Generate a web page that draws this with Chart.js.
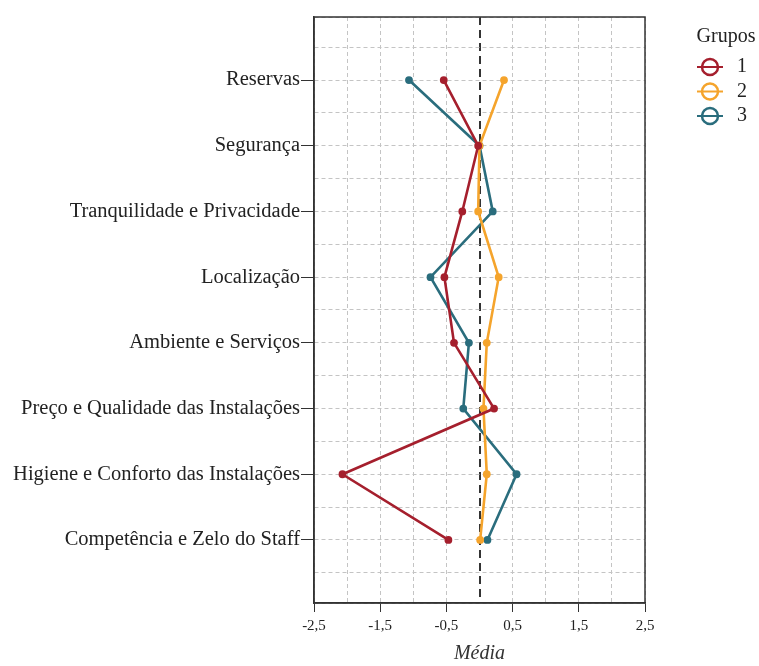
<!DOCTYPE html>
<html>
<head>
<meta charset="utf-8">
<script src="https://cdn.jsdelivr.net/npm/chart.js@4.4.1/dist/chart.umd.min.js"></script>
<style>
  html, body { margin: 0; padding: 0; background: #fff; }
  #wrap { position: relative; width: 759px; height: 666px; }
</style>
</head>
<body>
<div id="wrap"><canvas id="chart"></canvas></div>
<script>
// ===== DATA =====
const categories = [
  'Reservas',
  'Segurança',
  'Tranquilidade e Privacidade',
  'Localização',
  'Ambiente e Serviços',
  'Preço e Qualidade das Instalações',
  'Higiene e Conforto das Instalações',
  'Competência e Zelo do Staff',
];
const groupNames = ['1', '2', '3'];
const grupo1 = [-0.54, -0.02, -0.26, -0.53, -0.385, 0.22, -2.07, -0.47];
const grupo2 = [0.37, 0.0, -0.02, 0.29, 0.11, 0.06, 0.11, 0.01];
const grupo3 = [-1.065, 0.0, 0.2, -0.74, -0.16, -0.245, 0.56, 0.12];
const xTickLabels = [-2.5, -1.5, -0.5, 0.5, 1.5, 2.5];

const groupColors = ['#a51f2d', '#f5a42c', '#2a6d7d'];
const SERIF = '"Liberation Serif", "Times New Roman", serif';

function isLabeledX(v) {
  return xTickLabels.some(t => Math.abs(t - v) < 1e-6);
}
function isCategoryY(v) {
  return Math.abs(v - Math.round(v)) < 1e-6 && v >= 1 && v <= categories.length;
}
function isZero(c) {
  return c.tick && Math.abs(c.tick.value) < 1e-6;
}

const series = [grupo1, grupo2, grupo3].map((vals, g) => ({
  label: groupNames[g],
  data: vals.map((v, i) => ({ x: v, y: i + 1 })),
  showLine: true,
  borderColor: groupColors[g],
  backgroundColor: groupColors[g],
  borderWidth: 2.6,
  pointRadius: 2.6,
  pointHoverRadius: 2.6,
  tension: 0,
}));

// frame around the plot area
const framePlugin = {
  id: 'frame',
  beforeDatasetsDraw(chart) {
    const { ctx, chartArea: { left, top, right, bottom } } = chart;
    ctx.save();
    ctx.strokeStyle = '#333';
    ctx.lineWidth = 1.5;
    ctx.strokeRect(left, top, right - left, bottom - top);
    ctx.restore();
  },
};

// "Grupos" legend on the right
const legendPlugin = {
  id: 'gruposLegend',
  afterDraw(chart) {
    const { ctx } = chart;
    ctx.save();
    ctx.fillStyle = '#222';
    ctx.font = '20px ' + SERIF;
    ctx.textAlign = 'center';
    ctx.textBaseline = 'middle';
    ctx.fillText('Grupos', 726, 37);
    groupNames.forEach((name, i) => {
      const y = 67 + i * 24.5;
      ctx.strokeStyle = groupColors[i];
      ctx.lineWidth = 2;
      ctx.beginPath();
      ctx.moveTo(697, y);
      ctx.lineTo(723, y);
      ctx.stroke();
      ctx.lineWidth = 2.5;
      ctx.beginPath();
      ctx.arc(710, y, 8, 0, Math.PI * 2);
      ctx.stroke();
      ctx.fillStyle = '#222';
      ctx.font = '20px ' + SERIF;
      ctx.textAlign = 'left';
      ctx.fillText(name, 737, y);
    });
    ctx.restore();
  },
};

new Chart(document.getElementById('chart').getContext('2d'), {
  type: 'scatter',
  data: { datasets: series },
  options: {
    responsive: true,
    maintainAspectRatio: false,
    animation: false,
    layout: { padding: { top: 17, right: 114, left: 0, bottom: 0 } },
    plugins: {
      legend: { display: false },
      tooltip: { enabled: false },
    },
    scales: {
      x: {
        type: 'linear',
        min: -2.5,
        max: 2.5,
        afterFit(scale) { scale.height = 63; },
        ticks: {
          stepSize: 0.5,
          autoSkip: false,
          maxRotation: 0,
          padding: 5,
          color: '#222',
          font: { family: SERIF, size: 15 },
          callback: v => (isLabeledX(v) ? v.toFixed(1).replace('.', ',') : ''),
        },
        grid: {
          color: c => (isZero(c) ? '#333' : '#c4c4c4'),
          lineWidth: c => (isZero(c) ? 2 : 1),
          tickColor: c => (c.tick && isLabeledX(c.tick.value) ? '#333' : 'rgba(0,0,0,0)'),
          tickLength: 9,
        },
        border: {
          color: '#333',
          width: 1.5,
          dash: c => (isZero(c) ? [8, 5] : [4, 3]),
        },
        title: {
          display: true,
          text: 'Média',
          color: '#333',
          font: { family: SERIF, size: 20, style: 'italic' },
          padding: { top: 0, bottom: 0 },
        },
      },
      y: {
        type: 'linear',
        reverse: true,
        min: 0.04,
        max: 8.96,
        afterFit(scale) { scale.width = 314; },
        ticks: {
          stepSize: 0.5,
          autoSkip: false,
          padding: 1,
          color: '#222',
          font: { family: SERIF, size: 20.5 },
          callback: v => (isCategoryY(v) ? categories[Math.round(v) - 1] : ''),
        },
        grid: {
          color: '#c4c4c4',
          tickColor: c => (c.tick && isCategoryY(c.tick.value) ? '#333' : 'rgba(0,0,0,0)'),
          tickLength: 13,
        },
        border: { color: '#333', width: 1.5, dash: [4, 3] },
      },
    },
  },
  plugins: [framePlugin, legendPlugin],
});
</script>
</body>
</html>
